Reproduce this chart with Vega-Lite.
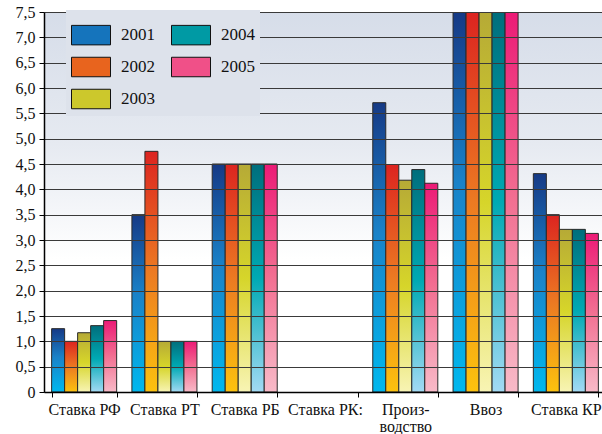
{
  "$schema": "https://vega.github.io/schema/vega-lite/v6.json",
  "width": 562,
  "height": 380,
  "autosize": {"type": "none"},
  "padding": {"left": 44, "top": 12, "right": 0, "bottom": 42},
  "background": "white",
  "data": {"values": [
    {"cat": "Ставка РФ", "year": "2001", "value": 1.25},
    {"cat": "Ставка РФ", "year": "2002", "value": 1.0},
    {"cat": "Ставка РФ", "year": "2003", "value": 1.17},
    {"cat": "Ставка РФ", "year": "2004", "value": 1.31},
    {"cat": "Ставка РФ", "year": "2005", "value": 1.41},
    {"cat": "Ставка РТ", "year": "2001", "value": 3.5},
    {"cat": "Ставка РТ", "year": "2002", "value": 4.75},
    {"cat": "Ставка РТ", "year": "2003", "value": 1.0},
    {"cat": "Ставка РТ", "year": "2004", "value": 1.0},
    {"cat": "Ставка РТ", "year": "2005", "value": 1.0},
    {"cat": "Ставка РБ", "year": "2001", "value": 4.5},
    {"cat": "Ставка РБ", "year": "2002", "value": 4.5},
    {"cat": "Ставка РБ", "year": "2003", "value": 4.5},
    {"cat": "Ставка РБ", "year": "2004", "value": 4.5},
    {"cat": "Ставка РБ", "year": "2005", "value": 4.5},
    {"cat": "Произ-водство", "year": "2001", "value": 5.71},
    {"cat": "Произ-водство", "year": "2002", "value": 4.49},
    {"cat": "Произ-водство", "year": "2003", "value": 4.18},
    {"cat": "Произ-водство", "year": "2004", "value": 4.39},
    {"cat": "Произ-водство", "year": "2005", "value": 4.12},
    {"cat": "Ввоз", "year": "2001", "value": 7.5},
    {"cat": "Ввоз", "year": "2002", "value": 7.5},
    {"cat": "Ввоз", "year": "2003", "value": 7.5},
    {"cat": "Ввоз", "year": "2004", "value": 7.5},
    {"cat": "Ввоз", "year": "2005", "value": 7.5},
    {"cat": "Ставка КР", "year": "2001", "value": 4.31},
    {"cat": "Ставка КР", "year": "2002", "value": 3.5},
    {"cat": "Ставка КР", "year": "2003", "value": 3.21},
    {"cat": "Ставка КР", "year": "2004", "value": 3.21},
    {"cat": "Ставка КР", "year": "2005", "value": 3.13}
  ]},
  "encoding": {
    "x": {
      "field": "cat", "type": "nominal",
      "scale": {"domain": ["Ставка РФ", "Ставка РТ", "Ставка РБ", "Ставка РК:", "Произ-водство", "Ввоз", "Ставка КР"], "paddingInner": 0.19, "paddingOuter": 0.095},
      "axis": {
        "title": null, "labelAngle": 0, "tickBand": "extent", "tickSize": 5,
        "domainColor": "#000", "domainWidth": 1.5, "tickColor": "#000",
        "labelFont": "Liberation Serif", "labelFontSize": 16, "labelColor": "#111",
        "labelPadding": 4, "labelBaseline": "top", "labelLineHeight": 17,
        "labelExpr": "datum.value == 'Произ-водство' ? ['Произ-', 'водство'] : datum.label",
        "zindex": 1
      }
    },
    "xOffset": {"field": "year", "type": "nominal", "scale": {"domain": ["2001", "2002", "2003", "2004", "2005"]}},
    "y": {
      "field": "value", "type": "quantitative",
      "scale": {"domain": [0, 7.5], "nice": false},
      "axis": {
        "title": null, "values": [0, 0.5, 1, 1.5, 2, 2.5, 3, 3.5, 4, 4.5, 5, 5.5, 6, 6.5, 7, 7.5],
        "labelExpr": "datum.value == 0 ? '0' : replace(format(datum.value, '.1f'), '.', ',')",
        "grid": true, "gridColor": "#3a3a3a", "gridWidth": 1.2,
        "domainColor": "#000", "domainWidth": 1.5, "tickColor": "#000", "tickSize": 5,
        "labelFont": "Liberation Serif", "labelFontSize": 16, "labelColor": "#111", "labelPadding": 4,
        "zindex": 1
      }
    }
  },
  "layer": [
    {
      "mark": {"type": "bar", "stroke": "#2a2a2a", "strokeWidth": 1, "clip": true},
      "encoding": {
        "fill": {
          "condition": [
            {"test": "datum.year == '2001'", "value": {"gradient": "linear", "x1": 0, "y1": 0, "x2": 0, "y2": 1, "stops": [{"offset": 0, "color": "#163a86"}, {"offset": 0.45, "color": "#1a82c8"}, {"offset": 1, "color": "#00b8ee"}]}},
            {"test": "datum.year == '2002'", "value": {"gradient": "linear", "x1": 0, "y1": 0, "x2": 0, "y2": 1, "stops": [{"offset": 0, "color": "#dc2420"}, {"offset": 0.5, "color": "#ec7a22"}, {"offset": 1, "color": "#fcc20e"}]}},
            {"test": "datum.year == '2003'", "value": {"gradient": "linear", "x1": 0, "y1": 0, "x2": 0, "y2": 1, "stops": [{"offset": 0, "color": "#b6aa36"}, {"offset": 0.5, "color": "#d6d52a"}, {"offset": 1, "color": "#f8f4b4"}]}},
            {"test": "datum.year == '2004'", "value": {"gradient": "linear", "x1": 0, "y1": 0, "x2": 0, "y2": 1, "stops": [{"offset": 0, "color": "#006e7c"}, {"offset": 0.5, "color": "#00a9b3"}, {"offset": 1, "color": "#a2daf4"}]}}
          ],
          "value": {"gradient": "linear", "x1": 0, "y1": 0, "x2": 0, "y2": 1, "stops": [{"offset": 0, "color": "#ec1a76"}, {"offset": 0.5, "color": "#f27092"}, {"offset": 1, "color": "#f8bac8"}]}
        }
      }
    },
    {
      "mark": {"type": "point", "filled": true, "stroke": "#111", "strokeWidth": 1, "opacity": 0, "size": 1},
      "encoding": {
        "color": {
          "field": "year", "type": "nominal",
          "scale": {"domain": ["2001", "2004", "2002", "2005", "2003"], "range": ["#1574bc", "#009aa4", "#e8641e", "#f05088", "#ccc82c"]},
          "legend": {
            "title": null, "orient": "none", "legendX": 22, "legendY": -2,
            "direction": "horizontal", "columns": 2, "columnPadding": 14, "rowPadding": -6,
            "padding": 5, "fillColor": "#dde2eb",
            "symbolType": "M-1,-0.5H1V0.5H-1Z", "symbolSize": 1521,
            "symbolStrokeColor": "#111", "symbolStrokeWidth": 1, "symbolOpacity": 1,
            "labelFont": "Liberation Serif", "labelFontSize": 17, "labelColor": "#111", "labelOffset": 10,
            "zindex": 2
          }
        }
      }
    }
  ],
  "config": {
    "view": {
      "stroke": null,
      "fill": {"gradient": "linear", "x1": 0, "y1": 0, "x2": 0, "y2": 1, "stops": [{"offset": 0, "color": "#d6dde9"}, {"offset": 0.35, "color": "#e6eaf1"}, {"offset": 0.65, "color": "#ffffff"}, {"offset": 1, "color": "#ffffff"}]}
    }
  }
}
